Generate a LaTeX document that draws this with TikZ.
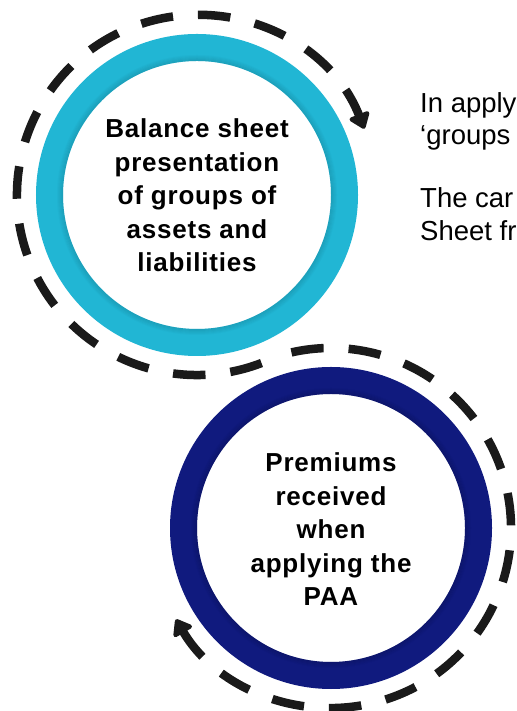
\documentclass[tikz,border=0pt]{standalone}
\usepackage{fontspec}
\setmainfont{Liberation Sans}
\newfontfamily\labelfont[LetterSpace=3]{Liberation Sans}
\usetikzlibrary{arrows.meta}

\definecolor{ringcyan}{RGB}{33,182,212}
\definecolor{ringnavy}{RGB}{16,26,126}
\definecolor{dashgrey}{RGB}{26,26,26}

\begin{document}
\begin{tikzpicture}[x=1pt,y=1pt,
  ring/.style={line width=27pt},
  flow/.style={draw=dashgrey, line width=8.5pt, line cap=butt,
    dash pattern=on 32.5pt off 25pt,
    -{Triangle[length=17pt,width=24pt,round]}},
  label/.style={font=\labelfont\fontsize{26pt}{33.5pt}\selectfont\bfseries,
    align=center, text=black, inner sep=0pt},
  note/.style={font=\fontsize{27.5pt}{32pt}\selectfont, text=black,
    anchor=base west, inner sep=0pt}
]
\useasboundingbox (0,0) rectangle (516,711);
\fill[white] (0,0) rectangle (516,711);

% centres of the two rings
\coordinate (c1) at (197,516);
\coordinate (c2) at (331,183);

% dashed circular arrows around each ring
\draw[flow] ([shift={(291:180)}]c1) arc[start angle=291, end angle=21.6, radius=180];
\draw[flow] ([shift={(102.7:180)}]c2) arc[start angle=102.7, end angle=-149.5, radius=180];

% coloured rings with a soft inner shadow
\draw[ring, ringcyan] (c1) circle[radius=147.5];
\foreach \k in {0,...,5}
  \draw[ringcyan!65!black, line width=1pt, opacity={0.30-0.05*\k}] (c1) circle[radius=134.5+\k];
\draw[ring, ringnavy] (c2) circle[radius=147.5];
\foreach \k in {0,...,5}
  \draw[ringnavy!60!black, line width=1pt, opacity={0.30-0.05*\k}] (c2) circle[radius=134.5+\k];

% ring labels
\node[label] (balance) at (197,515.5) {Balance sheet\\presentation\\of groups of\\assets and\\liabilities};
\node[label] (premiums) at (331,181.6) {Premiums\\received\\when\\applying the\\PAA};

% side text, running off the right edge
\node[note] (n1) at (420,598) {In apply};
\node[note] (n2) at (420,566) {‘groups};
\node[note] (n3) at (420,503) {The car};
\node[note] (n4) at (420,470) {Sheet fr};
\end{tikzpicture}
\end{document}
